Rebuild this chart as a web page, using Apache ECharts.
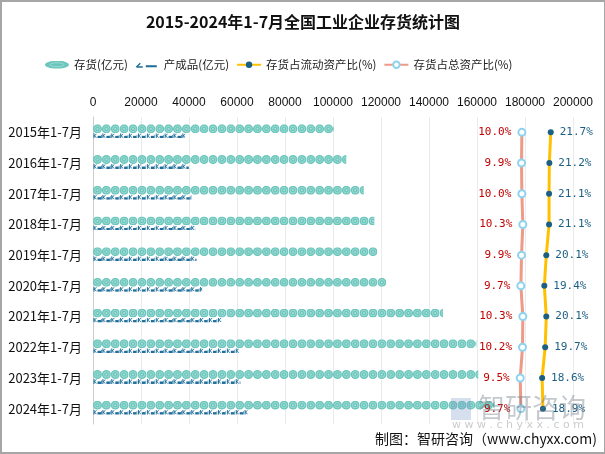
<!DOCTYPE html>
<html><head><meta charset="utf-8">
<script src="https://cdn.jsdelivr.net/npm/echarts@6/dist/echarts.min.js"></script>
<style>
html,body{margin:0;padding:0;background:#fff;}
#c{width:605px;height:454px;box-sizing:border-box;border:2px solid #a6a6a6;border-right-width:1px;}
</style></head>
<body><div id="c"></div>
<script>
var categories = ['2015年1-7月','2016年1-7月','2017年1-7月','2018年1-7月','2019年1-7月','2020年1-7月','2021年1-7月','2022年1-7月','2023年1-7月','2024年1-7月'];
var inventory = [100300,105500,112800,117200,118500,122200,145800,159700,160500,167300];
var finishedGoods = [38500,39900,41000,42600,43100,45500,53800,60900,61400,64500];
var ratioCurrent = [21.7,21.2,21.1,21.1,20.1,19.4,20.1,19.7,18.6,18.9];
var ratioTotal = [10.0,9.9,10.0,10.3,9.9,9.7,10.3,10.2,9.5,9.7];
var xTicks = {min:0, max:200000, interval:20000};

var coin = 'image://data:image/svg+xml;utf8,' + encodeURIComponent(
 '<svg xmlns="http://www.w3.org/2000/svg" width="18" height="18" viewBox="0 0 18 18">' +
 '<circle cx="9" cy="9" r="9" fill="#6cc6bc"/>' +
 '<circle cx="9" cy="9" r="5.5" fill="none" stroke="#a9e0da" stroke-width="1.6"/>' +
 '<circle cx="9" cy="9" r="2" fill="#a9e0da"/></svg>');
var coinLegend = 'image://data:image/svg+xml;utf8,' + encodeURIComponent(
 '<svg xmlns="http://www.w3.org/2000/svg" width="48" height="16" viewBox="0 0 48 16">' +
 '<ellipse cx="24" cy="8" rx="24" ry="8" fill="#6cc6bc"/>' +
 '<ellipse cx="24" cy="8" rx="14" ry="4" fill="none" stroke="#a9e0da" stroke-width="1.5"/></svg>');
var boxSym = 'image://data:image/svg+xml;utf8,' + encodeURIComponent(
 '<svg xmlns="http://www.w3.org/2000/svg" width="18" height="10" viewBox="0 0 18 10">' +
 '<path d="M1 0 L3 0 L3 4 L6 1 L8 1 L4 5 L8 9 L6 9 L3 6 L3 10 L1 10 Z" fill="#1f6e99"/>' +
 '<rect x="9" y="5" width="7" height="5" fill="#1f6e99"/>' +
 '<rect x="16" y="3" width="2" height="7" fill="#4a8fb5"/></svg>');
var boxLegend = 'image://data:image/svg+xml;utf8,' + encodeURIComponent(
 '<svg xmlns="http://www.w3.org/2000/svg" width="48" height="16" viewBox="0 0 48 16">' +
 '<path d="M2 12 L10 4 L12 6 L7 11 L16 11 L16 14 L4 14 Z" fill="#1f6e99"/>' +
 '<rect x="22" y="9" width="22" height="4" fill="#1f6e99"/></svg>');

var chart = echarts.init(document.getElementById('c'));
chart.setOption({
  animation:false,
  title:{text:'2015-2024年1-7月全国工业企业存货统计图', left:'center', top:7,
    textStyle:{fontSize:16, fontWeight:'bold', color:'#111', fontFamily:'Noto Sans CJK SC'}},
  legend:{top:52, left:38, itemGap:7, itemWidth:24, itemHeight:8,
    textStyle:{fontSize:11.5, color:'#222', fontFamily:'Noto Sans CJK SC'},
    data:[{name:'存货(亿元)', icon:coinLegend},{name:'产成品(亿元)', icon:boxLegend},
          {name:'存货占流动资产比(%)'},{name:'存货占总资产比(%)'}]},
  grid:{left:91, right:31, top:115, bottom:28},
  xAxis:[
    {type:'value', position:'top', min:xTicks.min, max:xTicks.max, interval:xTicks.interval,
     axisLine:{show:false}, axisTick:{show:false},
     axisLabel:{color:'#111', fontSize:12, fontFamily:'Liberation Sans', margin:8,
       formatter:function(v){return String(v);}},
     splitLine:{lineStyle:{color:'#ebebeb'}}},
    {type:'value', show:false, min:-120.8, max:25.6},
    {type:'value', show:false, min:-142.8, max:29.7}
  ],
  yAxis:{type:'category', inverse:true, data:categories,
    axisLine:{lineStyle:{color:'#cccccc'}}, axisTick:{show:false},
    axisLabel:{color:'#111', fontSize:13, fontFamily:'Noto Sans CJK SC', margin:11}},
  series:[
    {name:'存货(亿元)', type:'pictorialBar', xAxisIndex:0, data:inventory,
     symbol:coin, symbolSize:[9,9], symbolRepeat:true, symbolClip:true, symbolMargin:0,
     symbolPosition:'start', symbolOffset:[0,-3.5], z:3},
    {name:'产成品(亿元)', type:'pictorialBar', xAxisIndex:0, data:finishedGoods,
     symbol:boxSym, symbolSize:[9,5], symbolRepeat:true, symbolClip:true, symbolMargin:0,
     symbolPosition:'start', symbolOffset:[0,3.5], z:3},
    {name:'存货占流动资产比(%)', type:'line', xAxisIndex:2, data:ratioCurrent,
     symbol:'circle', symbolSize:6, lineStyle:{color:'#ffc000', width:3},
     itemStyle:{color:'#1b5f82'}, z:5,
     label:{show:true, position:'right', distance:6, color:'#1b5f82', fontSize:11,
       fontFamily:'DejaVu Sans Mono', formatter:function(p){return p.value.toFixed(1)+'%';}}},
    {name:'存货占总资产比(%)', type:'line', xAxisIndex:1, data:ratioTotal,
     symbol:'emptyCircle', symbolSize:7, lineStyle:{color:'#ee9a86', width:3},
     itemStyle:{color:'#8ed3ee', borderWidth:1.5}, z:5,
     label:{show:true, position:'left', distance:6, color:'#c00000', fontSize:11,
       fontFamily:'DejaVu Sans Mono', formatter:function(p){return p.value.toFixed(1)+'%';}}}
  ],
  graphic:[
    {type:'text', left:476, top:392, z:10, style:{text:'智研咨询', fontSize:27, fill:'rgba(110,120,130,0.4)', fontFamily:'Noto Sans CJK SC'}},
    {type:'rect', left:449, top:396, z:10, shape:{width:20, height:22}, style:{fill:'rgba(120,150,200,0.3)'}},
    {type:'text', left:450, top:418, z:10, style:{text:'w w w . c h y x x . c o m', fontSize:11, fill:'rgba(140,140,140,0.45)', fontFamily:'DejaVu Sans'}},
    {type:'text', right:7, top:430, z:11, style:{text:'制图：智研咨询（www.chyxx.com)', fontSize:14, fill:'#111', fontFamily:'Noto Sans CJK SC'}}
  ]
});
</script></body></html>
